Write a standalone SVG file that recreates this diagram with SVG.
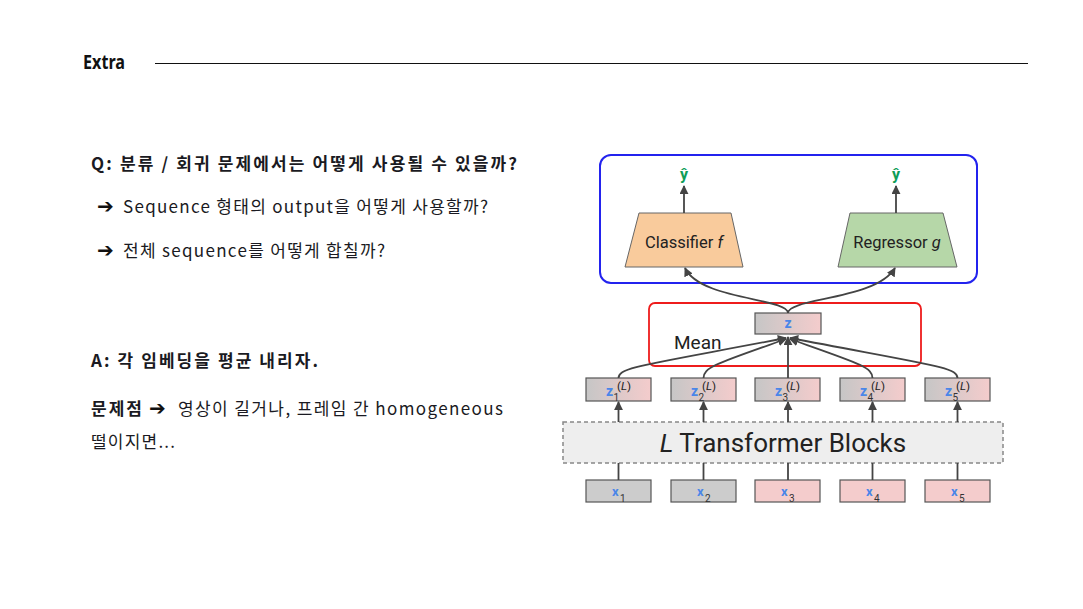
<svg xmlns="http://www.w3.org/2000/svg" width="1083" height="609" viewBox="0 0 1083 609">
<style>
.kr{font-family:"Noto Sans CJK KR","Noto Sans",sans-serif;fill:#1a1a22}
.b{font-weight:bold}
.ar{font-family:"DejaVu Sans",sans-serif;font-weight:bold;fill:#111}
.rb{font-family:Roboto,"Liberation Sans",sans-serif;fill:#222}
.box{stroke:#555;stroke-width:1.2}
.conn{fill:none;stroke:#444;stroke-width:1.8}
.zb{font-family:Roboto,"Liberation Sans",sans-serif;font-weight:bold;fill:#4a86e8}
.sub{font-family:Roboto,"Liberation Sans",sans-serif;fill:#333;font-size:10px}
.sup{font-family:Roboto,"Liberation Sans",sans-serif;fill:#222;font-size:11.5px}
.yh{font-family:Roboto,"Liberation Sans",sans-serif;font-weight:bold;fill:#0f9d58;font-size:16px;text-anchor:middle}
</style>
<defs>
<linearGradient id="gz" x1="0" y1="0" x2="1" y2="0">
<stop offset="0" stop-color="#c6c6c6"/>
<stop offset="1" stop-color="#f4cccc"/>
</linearGradient>
<marker id="ah" viewBox="0 0 10 10" refX="9" refY="5" markerWidth="5" markerHeight="5" orient="auto" markerUnits="strokeWidth">
<path d="M0,0 L10,5 L0,10 z" fill="#444"/>
</marker>
</defs>
<rect width="1083" height="609" fill="#fff"/>

<g id="header">
<text x="83" y="69" font-family="Noto Sans,sans-serif" font-weight="bold" font-size="19" textLength="42" lengthAdjust="spacingAndGlyphs" fill="#111">Extra</text>
<line x1="155" y1="63.5" x2="1028" y2="63.5" stroke="#111" stroke-width="1.2"/>
</g>

<g id="question">
<text class="kr b" x="91" y="170" font-size="17" textLength="426">Q: 분류 / 회귀 문제에서는 어떻게 사용될 수 있을까?</text>
<text class="ar" x="97" y="213" font-size="20">➔</text>
<text class="kr" x="123" y="213" font-size="17" textLength="365">Sequence 형태의 output을 어떻게 사용할까?</text>
<text class="ar" x="97" y="257" font-size="20">➔</text>
<text class="kr" x="123" y="257" font-size="17" textLength="262">전체 sequence를 어떻게 합칠까?</text>
</g>

<g id="answer">
<text class="kr b" x="91" y="367" font-size="17" textLength="227">A: 각 임베딩을 평균 내리자.</text>
<text class="kr b" x="91" y="415" font-size="17" textLength="51">문제점</text>
<text class="ar" x="149" y="415" font-size="20">➔</text>
<text class="kr" x="178" y="415" font-size="17" textLength="325">영상이 길거나, 프레임 간 homogeneous</text>
<text class="kr" x="91" y="448" font-size="17" textLength="84">떨이지면...</text>
</g>

<g id="heads-frame">
<rect x="600" y="155" width="377" height="128" rx="11" fill="none" stroke="#2323ee" stroke-width="2"/>
</g>
<g id="mean-frame">
<rect x="649" y="303" width="272" height="63" rx="6" fill="none" stroke="#ee1c1c" stroke-width="1.8"/>
<text class="rb" x="674" y="349" font-size="19">Mean</text>
</g>

<g id="classifier">
<polygon points="639,213 731,213 743,267 625,267" fill="#f9cb9c" stroke="#666" stroke-width="1"/>
<text class="rb" x="684" y="248" font-size="16.5" text-anchor="middle">Classifier <tspan font-style="italic">f</tspan></text>
</g>
<g id="regressor">
<polygon points="850,213 943,213 957,267 838,267" fill="#b6d7a8" stroke="#666" stroke-width="1"/>
<text class="rb" x="897" y="248" font-size="16.5" text-anchor="middle">Regressor <tspan font-style="italic">g</tspan></text>
</g>
<g id="yhat-f"><text class="yh" x="684" y="180">ŷ</text></g>
<g id="yhat-g"><text class="yh" x="896" y="180">ŷ</text></g>

<g id="z-mean">
<rect class="box" x="755" y="313" width="66" height="21" fill="url(#gz)"/>
<text class="zb" x="788" y="328" font-size="14" text-anchor="middle">z</text>
</g>

<g id="transformer">
<rect x="563" y="422" width="440" height="41" fill="#eeeeee" stroke="#888" stroke-width="1.5" stroke-dasharray="4,3"/>
<text class="rb" x="783" y="452" font-size="26" text-anchor="middle"><tspan font-style="italic">L</tspan> Transformer Blocks</text>
</g>

<g id="z1"><rect class="box" x="586" y="378" width="65" height="23" fill="url(#gz)"/><text class="zb" x="606" y="396" font-size="14">z</text><text class="sub" x="613.5" y="401">1</text><text class="sup" x="617" y="390">(<tspan font-style="italic">L</tspan>)</text></g>
<g id="z2"><rect class="box" x="671" y="378" width="65" height="23" fill="url(#gz)"/><text class="zb" x="691" y="396" font-size="14">z</text><text class="sub" x="698.5" y="401">2</text><text class="sup" x="702" y="390">(<tspan font-style="italic">L</tspan>)</text></g>
<g id="z3"><rect class="box" x="755" y="378" width="65" height="23" fill="url(#gz)"/><text class="zb" x="775" y="396" font-size="14">z</text><text class="sub" x="782.5" y="401">3</text><text class="sup" x="786" y="390">(<tspan font-style="italic">L</tspan>)</text></g>
<g id="z4"><rect class="box" x="840" y="378" width="65" height="23" fill="url(#gz)"/><text class="zb" x="860" y="396" font-size="14">z</text><text class="sub" x="867.5" y="401">4</text><text class="sup" x="871" y="390">(<tspan font-style="italic">L</tspan>)</text></g>
<g id="z5"><rect class="box" x="925" y="378" width="65" height="23" fill="url(#gz)"/><text class="zb" x="945" y="396" font-size="14">z</text><text class="sub" x="952.5" y="401">5</text><text class="sup" x="956" y="390">(<tspan font-style="italic">L</tspan>)</text></g>

<g id="x1"><rect class="box" x="586" y="480" width="65" height="22" fill="#cccccc"/><text class="zb" x="612" y="496" font-size="13">x</text><text class="sub" x="620" y="502">1</text></g>
<g id="x2"><rect class="box" x="671" y="480" width="65" height="22" fill="#cccccc"/><text class="zb" x="697" y="496" font-size="13">x</text><text class="sub" x="705" y="502">2</text></g>
<g id="x3"><rect class="box" x="755" y="480" width="65" height="22" fill="#f4cccc"/><text class="zb" x="781" y="496" font-size="13">x</text><text class="sub" x="789" y="502">3</text></g>
<g id="x4"><rect class="box" x="840" y="480" width="65" height="22" fill="#f4cccc"/><text class="zb" x="866" y="496" font-size="13">x</text><text class="sub" x="874" y="502">4</text></g>
<g id="x5"><rect class="box" x="925" y="480" width="65" height="22" fill="#f4cccc"/><text class="zb" x="951" y="496" font-size="13">x</text><text class="sub" x="959" y="502">5</text></g>

<g id="connectors">
<line class="conn" x1="684" y1="213" x2="684" y2="186" marker-end="url(#ah)"/>
<line class="conn" x1="896" y1="213" x2="896" y2="186" marker-end="url(#ah)"/>
<path class="conn" d="M788,313 C788,298 700,300 685,268" marker-end="url(#ah)"/>
<path class="conn" d="M788,313 C788,298 876,300 895,268" marker-end="url(#ah)"/>
<path class="conn" d="M618.5,378 C618.5,367 645,365 786,338" marker-end="url(#ah)"/>
<path class="conn" d="M703.5,378 C703.5,367 718,363 786,339" marker-end="url(#ah)"/>
<line class="conn" x1="788" y1="378" x2="788" y2="337" marker-end="url(#ah)"/>
<path class="conn" d="M872.5,378 C872.5,367 858,363 790,339" marker-end="url(#ah)"/>
<path class="conn" d="M957.5,378 C957.5,367 931,365 790,338" marker-end="url(#ah)"/>
<line class="conn" x1="618.5" y1="422" x2="618.5" y2="402" marker-end="url(#ah)"/>
<line class="conn" x1="703.5" y1="422" x2="703.5" y2="402" marker-end="url(#ah)"/>
<line class="conn" x1="788" y1="422" x2="788" y2="402" marker-end="url(#ah)"/>
<line class="conn" x1="872.5" y1="422" x2="872.5" y2="402" marker-end="url(#ah)"/>
<line class="conn" x1="957.5" y1="422" x2="957.5" y2="402" marker-end="url(#ah)"/>
<line class="conn" x1="618.5" y1="480" x2="618.5" y2="463"/>
<line class="conn" x1="703.5" y1="480" x2="703.5" y2="463"/>
<line class="conn" x1="788" y1="480" x2="788" y2="463"/>
<line class="conn" x1="872.5" y1="480" x2="872.5" y2="463"/>
<line class="conn" x1="957.5" y1="480" x2="957.5" y2="463"/>
</g>
</svg>
